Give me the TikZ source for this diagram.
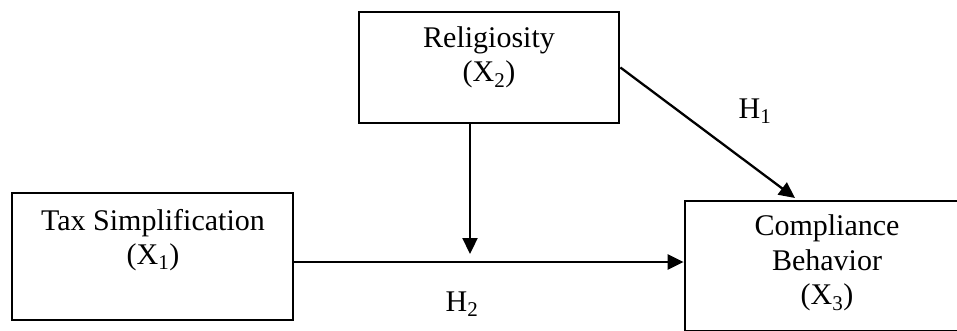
\documentclass[tikz,border=0pt]{standalone}
\usepackage{fontspec}
\setmainfont{Liberation Serif}
\usetikzlibrary{arrows.meta}
\begin{document}
\begin{tikzpicture}[x=1pt,y=-1pt,
  box/.style={draw,line width=2.8pt,inner sep=0pt},
  txt/.style={align=center,inner sep=0pt,font=\fontsize{30}{34.5}\selectfont},
  lab/.style={inner sep=0pt,font=\fontsize{30}{34.5}\selectfont},
  arr/.style={line width=2.3pt,-{Triangle[length=16pt,width=15pt]}}]
\useasboundingbox (0,0) rectangle (957,331);
\clip (0,0) rectangle (957,331);
\fill[white] (0,0) rectangle (957,331);
% boxes
\node[box,minimum width=260pt,minimum height=111pt] (rel) at (489,67.5) {};
\node[box,minimum width=281pt,minimum height=127pt] (tax) at (152.5,256.5) {};
\node[box,minimum width=290pt,minimum height=130pt] (comp) at (830,266) {};
% texts
\node[txt] (reltxt) at (489,57.5) {Religiosity\\(X\textsubscript{2})};
\node[txt] (taxtxt) at (153,240) {Tax Simplification\\(X\textsubscript{1})};
\node[txt] (comptxt) at (827,263) {Compliance\\Behavior\\(X\textsubscript{3})};
% labels
\node[lab] (h1) at (755,111) {H\textsubscript{1}};
\node[lab] (h2) at (462,304) {H\textsubscript{2}};
% connector points
\coordinate (mtip) at (470,254);
\coordinate (hline) at (490,262);
\coordinate (dtip) at (795,198);
% connectors
\draw[arr] (tax.east |- hline) -- (comp.west |- hline);
\draw[arr] (rel.south -| mtip) -- (mtip);
\draw[arr] (rel.east) -- (dtip);
\end{tikzpicture}
\end{document}
